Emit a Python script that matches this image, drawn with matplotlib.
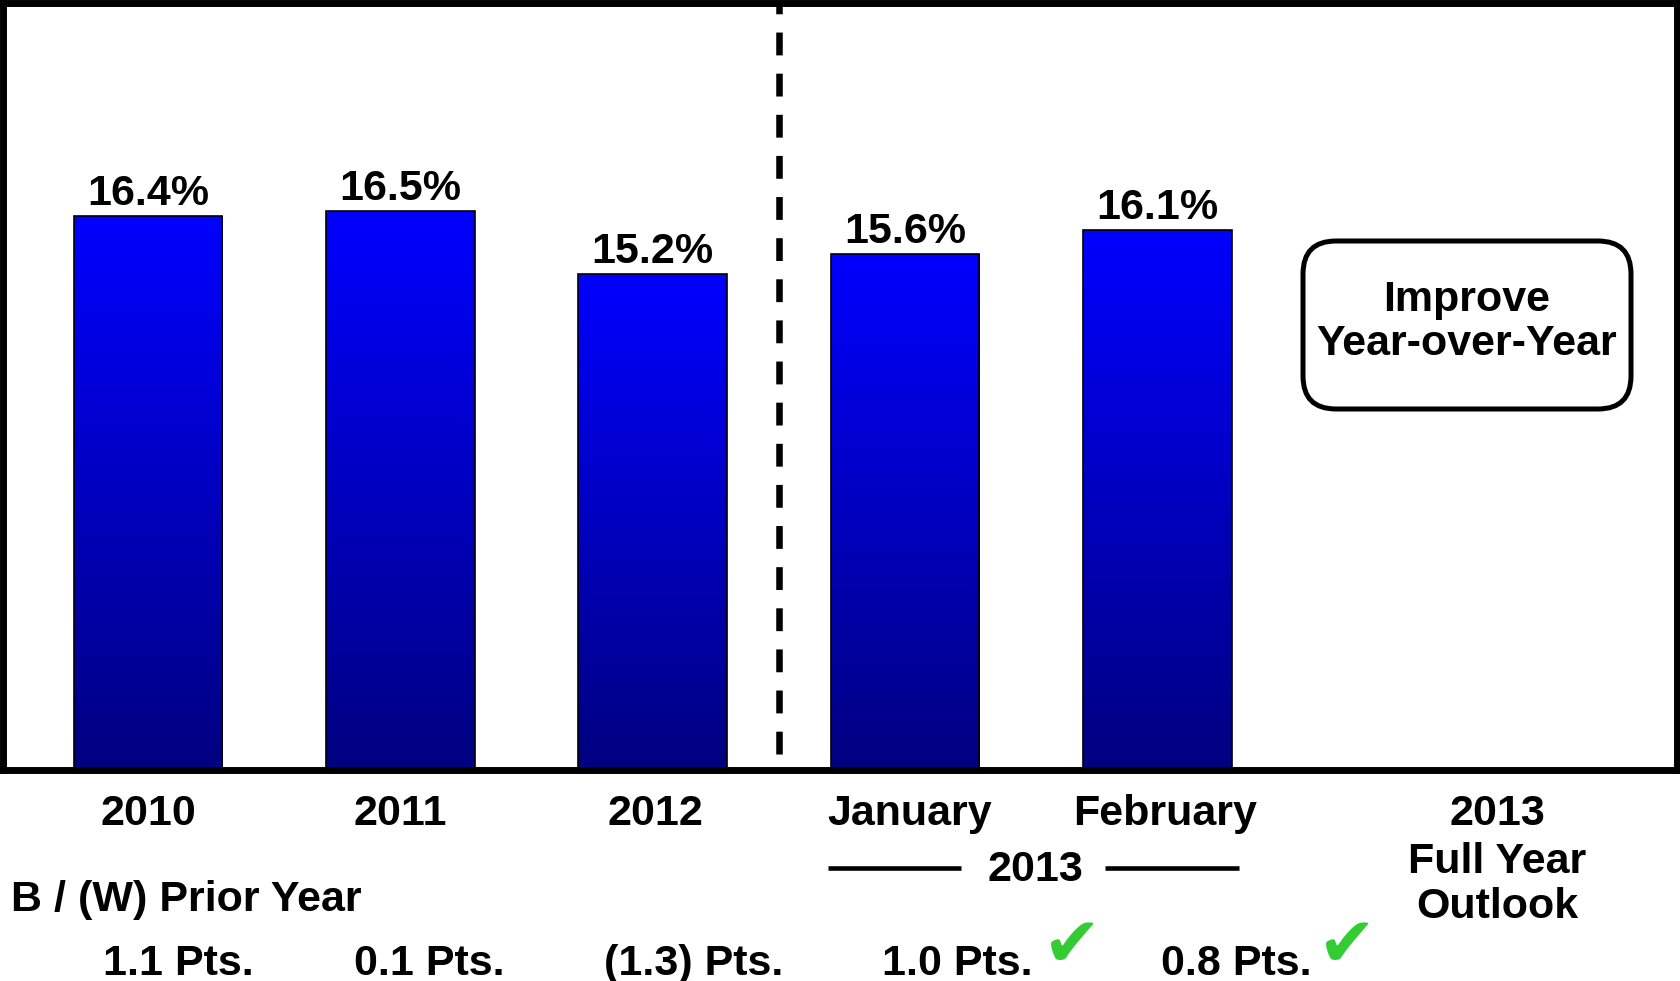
import matplotlib
matplotlib.use('Agg')
import matplotlib.pyplot as plt
import numpy as np
from matplotlib.colors import LinearSegmentedColormap
from matplotlib.patches import FancyBboxPatch
from matplotlib.transforms import blended_transform_factory

plt.rcParams['font.family'] = ['Liberation Sans', 'DejaVu Sans']
plt.rcParams['font.weight'] = 'bold'

# data
categories = ['2010', '2011', '2012', 'January', 'February']
margins = [16.4, 16.5, 15.2, 15.6, 16.1]
value_labels = ['16.4%', '16.5%', '15.2%', '15.6%', '16.1%']
prior_year = ['1.1 Pts.', '0.1 Pts.', '(1.3) Pts.', '1.0 Pts.', '0.8 Pts.']
prior_checked = [False, False, False, True, True]

ymin, ymax = 4.93, 20.8
W, H = 1680, 981
fs = 31

fig = plt.figure(figsize=(W / 100, H / 100), dpi=100)
ax = fig.add_axes([3 / W, 1 - 769.5 / H, 1674 / W, 766 / H])

x = np.arange(len(categories))
width = 0.59
bars = ax.bar(x, margins, width, bottom=0, color='none', edgecolor='black',
              linewidth=1.2, zorder=3)

# vertical gradient inside each bar
cmap = LinearSegmentedColormap.from_list('blues', ['#000080', '#0000ff'])
grad = np.linspace(0, 1, 256).reshape(-1, 1)
for xi, v, b in zip(x, margins, bars):
    im = ax.imshow(grad, cmap=cmap, aspect='auto', origin='lower',
                   extent=(xi - width / 2, xi + width / 2, ymin, v), zorder=2)
    im.set_clip_path(b)

for xi, v, lab in zip(x, margins, value_labels):
    ax.annotate(lab, (xi, v), xytext=(0, 8), textcoords='offset points',
                ha='center', va='baseline', fontsize=fs, fontweight='bold')

# dashed separator between years and months
ax.plot([2.5, 2.5], [ymax, ymin], color='black', linewidth=4.7,
        linestyle=(1.85, (3.5, 2.8)), dash_capstyle='butt', zorder=4)

ax.set_xlim(-0.5747, 6.06)
ax.set_ylim(ymin, ymax)
ax.set_xticks([])
ax.set_yticks([])
for s in ax.spines.values():
    s.set_linewidth(5)
    s.set_color('black')

# overlay in pixel coordinates for the annotation text
ov = fig.add_axes([0, 0, 1, 1])
ov.set_xlim(0, W)
ov.set_ylim(H, 0)
ov.axis('off')
tr = blended_transform_factory(ax.transData, ov.transData)

label_dx = [0, 0, 3, 5, 8]
for xi, c, dx in zip(x, categories, label_dx):
    ov.annotate(c, (xi, 825), xycoords=tr, xytext=(dx * 0.72, 0),
                textcoords='offset points', ha='center', va='baseline',
                fontsize=fs, fontweight='bold')

ov.text(1497, 825, '2013', ha='center', va='baseline', fontsize=fs, fontweight='bold')
ov.text(1497, 873, 'Full Year', ha='center', va='baseline', fontsize=fs, fontweight='bold')
ov.text(1497, 918, 'Outlook', ha='center', va='baseline', fontsize=fs, fontweight='bold')

ov.text(1035, 881, '2013', ha='center', va='baseline', fontsize=fs, fontweight='bold')
ov.plot([828, 961], [868, 868], color='black', linewidth=3.3, solid_capstyle='butt')
ov.plot([1105, 1239], [868, 868], color='black', linewidth=3.3, solid_capstyle='butt')

ov.text(11, 911, 'B / (W) Prior Year', ha='left', va='baseline', fontsize=fs,
        fontweight='bold')

row_x = [178, 429, 694, 957, 1236]
check_x = [None, None, None, 1043, 1318]
for px, lab, chk, cx in zip(row_x, prior_year, prior_checked, check_x):
    ov.text(px, 975, lab, ha='center', va='baseline', fontsize=fs, fontweight='bold')
    if chk:
        ov.text(cx, 980, '\u2714', ha='left', va='bottom', fontsize=50,
                color='#33cc33', family='DejaVu Sans')

# rounded outlook box
r = 33
bx0, by0, bx1, by1 = 1303, 241, 1631, 409
box = FancyBboxPatch((bx0 + r, by0 + r), bx1 - bx0 - 2 * r, by1 - by0 - 2 * r,
                     boxstyle=f'round,pad={r},rounding_size={r}',
                     facecolor='white', edgecolor='black', linewidth=3.6)
ov.add_patch(box)
ov.text(1467, 311, 'Improve', ha='center', va='baseline', fontsize=fs, fontweight='bold')
ov.text(1467, 355, 'Year-over-Year', ha='center', va='baseline', fontsize=fs,
        fontweight='bold')

fig.savefig('out.png', dpi=100)
plt.close(fig)
